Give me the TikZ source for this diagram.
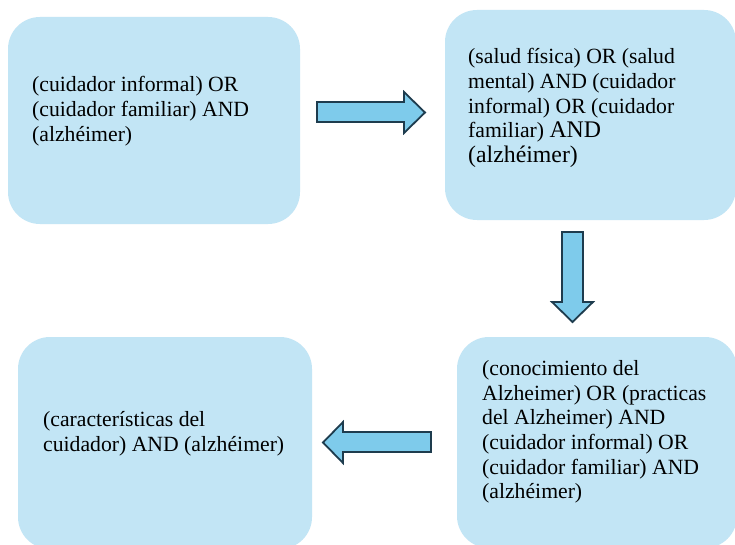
\documentclass[tikz,border=0pt]{standalone}
\usepackage{fontspec}
\setmainfont{Liberation Serif}
\definecolor{boxfill}{RGB}{194,229,245}
\definecolor{arrowfill}{RGB}{126,203,235}
\definecolor{arrowline}{RGB}{30,60,78}
\tikzset{
  boxshape/.style={fill=boxfill, rounded corners=32pt},
  blockarrow/.style={fill=arrowfill, draw=arrowline, line width=1.8pt, line join=miter},
  txt/.style={inner sep=0pt, align=left, anchor=north west, font=\fontsize{21.7}{24.6}\selectfont},
}
\newcommand{\bigger}{\fontsize{23.8}{24.6}\selectfont}
\begin{document}
\begin{tikzpicture}[x=1pt,y=-1pt]
\clip (0,0) rectangle (735,545);
\fill[white] (0,0) rectangle (735,545);
% boxes
\path[boxshape] (8,17) rectangle (300,224);
\path[boxshape] (445,10) rectangle (736,220);
\path[boxshape] (457,337) rectangle (737,548);
\path[boxshape] (18,337) rectangle (312,549);
% texts
\node[txt] (t1) at (32,76.5) {(cuidador informal) OR\\(cuidador familiar) AND\\(alzhéimer)};
\node[txt] (t2) at (468,48.5) {(salud física) OR (salud\\mental) AND (cuidador\\informal) OR (cuidador\\familiar) {\bigger AND}\\{\bigger(alzhéimer)}};
\node[txt] (t3) at (482,360.5) {(conocimiento del\\Alzheimer) OR (practicas\\del Alzheimer) AND\\(cuidador informal) OR\\(cuidador familiar) AND\\(alzhéimer)};
\node[txt] (t4) at (43,411.5) {(características del\\cuidador) AND (alzhéimer)};
% arrows
\draw[blockarrow] (317,102) -- (404,102) -- (404,92) -- (425,112.5) -- (404,133) -- (404,122) -- (317,122) -- cycle;
\draw[blockarrow] (562,232) -- (583,232) -- (583,302) -- (593,302) -- (572.5,322) -- (552,302) -- (562,302) -- cycle;
\draw[blockarrow] (431,432) -- (343,432) -- (343,422) -- (323,442.5) -- (343,463) -- (343,452) -- (431,452) -- cycle;
\end{tikzpicture}
\end{document}
